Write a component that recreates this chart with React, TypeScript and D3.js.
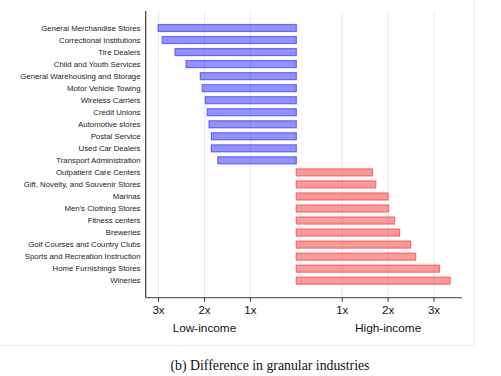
import React from "react";
import * as d3 from "d3";

const lowCategories = [
  "General Merchandise Stores",
  "Correctional Institutions",
  "Tire Dealers",
  "Child and Youth Services",
  "General Warehousing and Storage",
  "Motor Vehicle Towing",
  "Wireless Carriers",
  "Credit Unions",
  "Automotive stores",
  "Postal Service",
  "Used Car Dealers",
  "Transport Administration",
];
const lowValues = [3.01, 2.92, 2.64, 2.4, 2.09, 2.05, 1.98, 1.94, 1.9, 1.85, 1.85, 1.71];

const highCategories = [
  "Outpatient Care Centers",
  "Gift, Novelty, and Souvenir Stores",
  "Marinas",
  "Men's Clothing Stores",
  "Fitness centers",
  "Breweries",
  "Golf Courses and Country Clubs",
  "Sports and Recreation Instruction",
  "Home Furnishings Stores",
  "Wineries",
];
const highValues = [1.66, 1.73, 2.0, 2.01, 2.14, 2.25, 2.49, 2.6, 3.12, 3.35];

const tickValues = [-3, -2, -1, 1, 2, 3];
const tickLabels = ["3x", "2x", "1x", "1x", "2x", "3x"];
const groupLabels = ["Low-income", "High-income"];
const groupPositions = [-2, 2];
const caption = "(b) Difference in granular industries";

export default function App() {
  const W = 501;
  const H = 376;
  const plotLeft = 145.7;
  const plotRight = 462;
  const plotTop = 11;
  const plotBottom = 297.7;

  const x = d3.scaleLinear().domain([-3.28, 3.609]).range([plotLeft, plotRight]);
  const allCats = [...lowCategories, ...highCategories];
  const y = d3.scaleBand<string>().domain(allCats).range([22, 286.7]).paddingInner(0.42).paddingOuter(0.21);

  const bars = [
    ...lowCategories.map((c, i) => ({ c, v: -lowValues[i], low: true })),
    ...highCategories.map((c, i) => ({ c, v: highValues[i], low: false })),
  ];
  const bw = y.bandwidth();
  const sans = "'Liberation Sans', Arial, sans-serif";

  return (
    <svg width={W} height={H} style={{ position: "absolute", left: 0, top: 0, background: "#fff" }}>
      {/* outer frame */}
      <line x1={0} x2={474.5} y1={345.5} y2={345.5} stroke="#ececec" strokeWidth={1} />
      <line x1={474.5} x2={474.5} y1={0} y2={345.5} stroke="#ececec" strokeWidth={1} />
      {/* gridlines */}
      {tickValues.map((t, i) => (
        <line key={"g" + i} x1={x(t)} x2={x(t)} y1={plotTop} y2={plotBottom} stroke="#e3edf0" strokeWidth={1} />
      ))}
      {/* bars */}
      {bars.map((b, i) => {
        const x0 = Math.min(x(0), x(b.v));
        const w = Math.abs(x(b.v) - x(0));
        return (
          <rect
            key={"b" + i}
            x={x0}
            y={(y(b.c) as number)}
            width={w}
            height={bw}
            fill={b.low ? "rgba(40,40,255,0.5)" : "rgba(255,40,40,0.47)"}
            stroke={b.low ? "rgba(70,70,255,0.75)" : "rgba(255,80,80,0.8)"}
            strokeWidth={1.2}
          />
        );
      })}
      {/* y labels */}
      {allCats.map((c, i) => (
        <text
          key={"l" + i}
          x={140.5}
          y={(y(c) as number) + bw / 2}
          dy="0.35em"
          textAnchor="end"
          fontFamily={sans}
          fontSize={7.8}
          fill="#222"
        >
          {c}
        </text>
      ))}
      {/* axes */}
      <line x1={plotLeft} x2={plotLeft} y1={plotTop} y2={plotBottom} stroke="#333" strokeWidth={1.2} />
      <line x1={plotLeft} x2={plotRight} y1={plotBottom} y2={plotBottom} stroke="#666" strokeWidth={1.2} />
      {tickValues.map((t, i) => (
        <g key={"t" + i}>
          <line x1={x(t)} x2={x(t)} y1={plotBottom} y2={plotBottom + 4} stroke="#333" strokeWidth={1} />
          <text x={x(t)} y={310} dy="0.35em" textAnchor="middle" fontFamily={sans} fontSize={11.5} fill="#111">
            {tickLabels[i]}
          </text>
        </g>
      ))}
      {groupLabels.map((g, i) => (
        <text key={"gl" + i} x={x(groupPositions[i])} y={328} dy="0.35em" textAnchor="middle" fontFamily={sans} fontSize={11.8} fill="#111">
          {g}
        </text>
      ))}
      <text x={270} y={365} dy="0.35em" textAnchor="middle" fontFamily="'Liberation Serif', 'DejaVu Serif', serif" fontSize={13.8} fill="#111">
        {caption}
      </text>
    </svg>
  );
}
